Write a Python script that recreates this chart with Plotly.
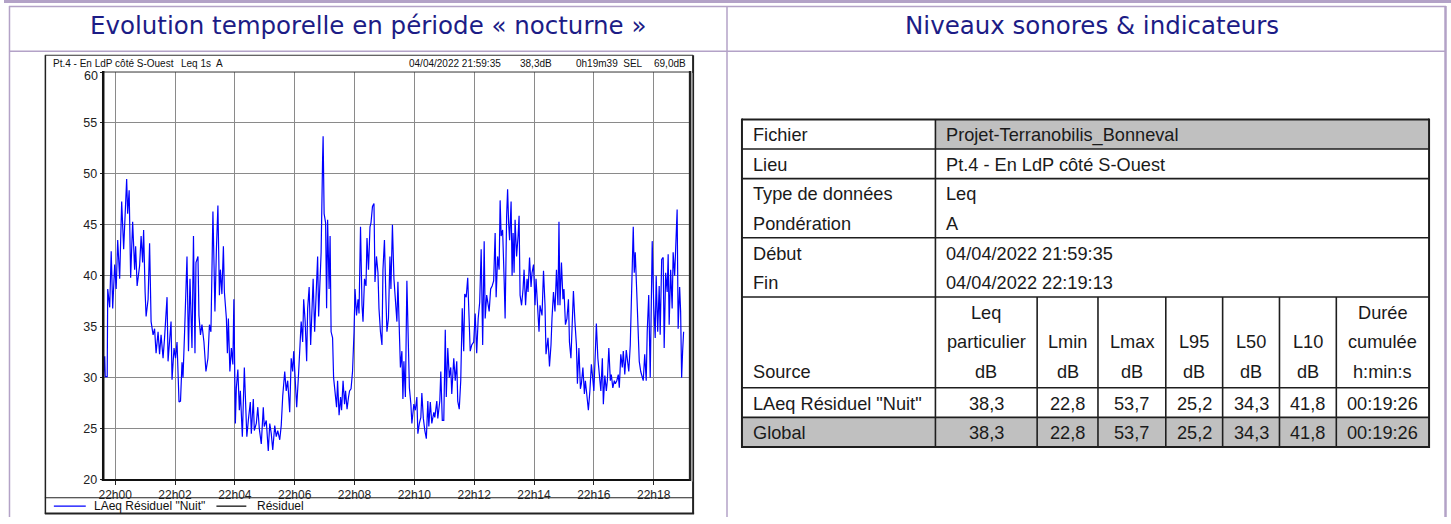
import plotly.graph_objects as go
from datetime import datetime, timedelta

W, H = 1451, 524

# ---------------- data ----------------
start_time = datetime(2022, 4, 4, 21, 59, 35)
end_time = datetime(2022, 4, 4, 22, 19, 13)

# seconds after start of each read sample
t_offsets = [
    0, 4, 5, 9, 10, 14, 17, 20, 24, 27, 30, 34, 38, 42, 48, 50, 53, 56, 60, 64, 66, 69, 74, 77, 80, 82, 85, 87, 91, 94,
    97, 101, 104, 107, 111, 114, 117, 121, 124, 129, 131, 134, 137, 139, 143, 146, 149, 153, 156, 159, 161, 164, 167,
    169, 172, 175, 179, 182, 185, 187, 191, 193, 196, 199, 203, 207, 211, 214, 217, 221, 223, 225, 228, 231, 234, 236,
    239, 242, 244, 248, 250, 252, 255, 258, 261, 263, 266, 268, 271, 274, 276, 280, 284, 286, 289, 292, 296, 298, 302,
    304, 308, 311, 314, 318, 322, 324, 328, 332, 335, 338, 341, 345, 348, 351, 355, 358, 361, 365, 368, 371, 375, 378,
    381, 383, 386, 389, 393, 395, 398, 401, 403, 406, 409, 411, 414, 417, 419, 422, 425, 428, 431, 433, 436, 438, 441,
    442, 444, 447, 449, 451, 454, 456, 458, 461, 463, 466, 469, 471, 474, 477, 479, 482, 485, 487, 490, 493, 495, 498,
    501, 504, 506, 509, 512, 514, 517, 520, 522, 525, 528, 530, 533, 536, 538, 541, 544, 546, 549, 552, 554, 557, 560,
    562, 565, 568, 570, 573, 576, 578, 581, 584,
    587, 590, 592, 595, 597, 600, 602, 604, 607, 610, 612, 615, 618, 620, 624, 627, 630, 632, 635, 638, 640, 643, 646,
    649, 652, 654, 657, 660, 664, 666, 670, 672, 676, 678, 681, 684, 687, 689, 692, 695, 698, 700, 704, 707, 710, 712,
    715, 718, 721, 724, 726, 729, 732, 734, 737, 740, 744, 747, 750, 753, 756, 759, 762, 765, 767, 770, 773, 775, 778,
    781, 784, 787, 789, 792, 795, 797, 799, 802, 805, 807, 810, 812, 814, 816, 819, 821, 823, 825, 827, 830, 833, 835,
    837, 840, 843, 845, 848, 851, 853, 856, 859, 861, 864, 867, 869, 872, 875, 877, 881, 884, 887, 889, 893, 896, 899,
    901, 904, 907, 910, 913, 915, 917, 920, 923, 925, 928, 931, 934, 936, 939, 942, 944, 947, 950, 952, 955, 958, 960,
    963, 966, 968, 971, 974, 977, 980, 982, 985, 988, 990, 993, 996, 999, 1002, 1004, 1007, 1010, 1012, 1015, 1018,
    1020, 1023, 1026, 1028, 1031, 1034, 1036, 1039, 1042, 1044, 1047, 1050, 1052, 1055, 1058, 1060, 1062, 1064, 1066,
    1068, 1071, 1074, 1076, 1079, 1082, 1084, 1087, 1090, 1092, 1095, 1098, 1100, 1102, 1105, 1108, 1110, 1113, 1116,
    1118, 1121, 1124, 1126, 1129, 1132, 1134, 1136, 1139, 1142, 1144, 1147, 1150, 1152, 1154, 1157, 1159, 1161, 1163,
    1165,
]

laeq = [
    29.0, 32.1, 30.1, 30.1, 38.7, 36.9, 42.4, 36.8, 41.1, 38.7, 43.5, 39.7, 47.3, 42.6, 49.5, 46.1, 48.4, 39.8, 45.3,
    40.6, 42.9, 39.0, 41.0, 43.9, 41.3, 44.5, 38.4, 36.0, 37.7, 43.2, 35.5, 34.2, 34.8, 32.4, 34.5, 32.3, 34.2, 31.9,
    33.9, 37.9, 31.6, 33.9, 35.5, 29.8, 32.9, 31.9, 33.5, 27.6, 27.7, 31.5, 30.0, 34.2, 38.5, 41.9, 32.6, 39.7, 32.9,
    43.9, 32.4, 41.3, 41.9, 36.1, 34.2, 35.2, 33.5, 30.6, 31.9, 35.2, 34.5, 46.3, 41.6, 36.5, 42.6, 46.9, 38.1, 40.6,
    38.2, 42.9, 38.4, 35.8, 32.4, 35.8, 30.6, 32.9, 31.3, 37.7, 25.5, 29.0, 30.8, 26.8, 28.7, 24.2, 31.0, 27.4, 24.2,
    25.8, 27.6, 24.5, 27.9, 24.8, 25.5, 27.1, 25.0, 23.5, 27.1, 25.2, 25.8, 22.8, 25.5, 24.5, 22.9, 25.3, 24.2, 24.8,
    23.9, 25.3, 28.2, 30.6, 28.7, 29.7, 26.6, 31.9, 30.6, 32.6, 29.7, 27.1, 30.6, 33.2, 35.5, 33.5, 37.7, 35.5, 31.6,
    36.8, 38.9, 33.2, 35.8, 39.7, 34.5, 38.4, 41.9, 36.0, 40.3, 42.3, 51.6, 53.7, 46.1, 45.2, 36.8, 45.5, 38.7, 43.9,
    34.5, 33.9, 30.0, 28.7, 27.1, 29.7, 26.3, 28.1, 26.8, 29.7, 27.4, 28.7, 26.9, 28.1, 28.7, 28.9, 30.6, 34.5, 38.7,
    36.1, 37.7, 36.3, 44.8, 37.1, 35.5, 39.7, 39.0, 43.7, 40.6, 44.8, 45.2, 46.8, 47.1, 39.4, 41.9, 40.3, 36.8, 34.5,
    33.2, 40.6, 43.5, 37.7, 34.5, 35.8, 41.9, 38.7, 45.0, 39.7,
    37.4, 35.5, 39.4, 33.9, 31.0, 32.6, 27.9, 31.6, 28.1, 39.5, 34.2, 29.0, 27.4, 25.5, 27.4, 26.8, 28.1, 24.5, 25.5,
    26.1, 28.5, 26.0, 24.8, 24.0, 27.7, 25.2, 27.6, 25.5, 26.6, 26.1, 27.7, 26.0, 27.7, 30.6, 25.8, 25.8, 34.7, 28.1,
    32.9, 30.0, 31.0, 28.4, 31.9, 29.7, 31.6, 27.7, 26.9, 29.7, 36.8, 32.6, 38.2, 37.9, 39.8, 35.8, 32.6, 33.2, 33.5,
    36.3, 32.4, 35.8, 37.4, 42.6, 33.2, 43.4, 35.8, 38.1, 37.1, 36.5, 38.7, 39.0, 39.5, 44.2, 37.9, 41.9, 40.6, 47.4,
    43.9, 44.5, 39.7, 35.8, 45.8, 48.5, 45.2, 43.5, 47.3, 40.0, 44.2, 40.3, 45.5, 41.9, 43.9, 45.9, 38.1, 37.1, 38.7,
    40.6, 37.1, 39.7, 38.4, 41.8, 38.9, 40.3, 41.1, 37.1, 39.7, 37.4, 34.5, 37.1, 36.1, 40.5, 37.1, 32.3, 33.9, 31.1,
    33.2, 35.8, 38.4, 36.5, 40.6, 37.1, 45.3, 37.1, 41.3, 37.7, 38.7, 35.2, 35.8, 37.7, 33.5, 31.9, 36.5, 38.5, 35.5,
    33.2, 29.4, 32.9, 28.9, 29.4, 31.0, 28.4, 29.7, 28.1, 26.8, 28.7, 31.3, 30.3, 28.7, 32.6, 35.3, 31.9, 30.0, 28.7,
    31.9, 27.4, 30.2, 28.7, 29.7, 32.9, 29.7, 30.3, 29.0, 29.7, 29.4, 29.7, 30.3, 29.0, 32.3, 31.0, 32.6, 30.3, 32.7,
    31.9, 30.6, 33.2, 37.1, 40.8, 44.8, 40.3, 42.3, 38.4, 34.8, 31.6, 30.6, 30.0, 29.7, 32.3, 29.7, 34.5, 38.1, 30.0,
    35.8, 43.4, 37.1, 33.9, 40.0, 34.5, 39.0, 34.2, 41.6, 41.8, 32.9, 40.3, 38.4, 42.1, 35.2, 40.6, 36.8, 42.3, 40.0,
    45.2, 46.5, 34.8, 38.9, 36.5, 30.0, 32.6, 34.5,
]

x_tick_times = ["22:00", "22:02", "22:04", "22:06", "22:08", "22:10", "22:12", "22:14", "22:16", "22:18"]
x_tick_labels = ["22h00", "22h02", "22h04", "22h06", "22h08", "22h10", "22h12", "22h14", "22h16", "22h18"]
y_ticks = [20, 25, 30, 35, 40, 45, 50, 55, 60]

panel_titles = ["Evolution temporelle en période « nocturne »", "Niveaux sonores & indicateurs"]
chart_info_left = ["Pt.4 - En LdP côté S-Ouest", "Leq 1s  A"]
chart_info_right = ["04/04/2022 21:59:35", "38,3dB", "0h19m39  SEL", "69,0dB"]
legend_labels = ['LAeq Résiduel "Nuit"', "Résiduel"]
legend_colors = ["#0000ff", "#000000"]

info_labels = ["Fichier", "Lieu", "Type de données", "Pondération", "Début", "Fin"]
info_values = ["Projet-Terranobilis_Bonneval", "Pt.4 - En LdP côté S-Ouest", "Leq", "A",
               "04/04/2022 21:59:35", "04/04/2022 22:19:13"]

col_headers = [["Leq", "particulier", "dB"], ["", "Lmin", "dB"], ["", "Lmax", "dB"], ["", "L95", "dB"],
               ["", "L50", "dB"], ["", "L10", "dB"], ["Durée", "cumulée", "h:min:s"]]
sources = ['LAeq Résiduel "Nuit"', "Global"]
leq_part = [38.3, 38.3]
lmin = [22.8, 22.8]
lmax = [53.7, 53.7]
l95 = [25.2, 25.2]
l50 = [34.3, 34.3]
l10 = [41.8, 41.8]
duree = ["00:19:26", "00:19:26"]

# ---------------- helpers ----------------
def px(x):
    return x / W

def py(y):
    return 1 - y / H

LAV = "#b3a2c7"
NAVY = "#1c1c86"
DARK = "#1a1a1a"
GRAY = "#c0c0c0"
ARIAL = "Liberation Sans, Arial, sans-serif"
TITLE_FONT = "DejaVu Sans, sans-serif"

shapes = []
annos = []

def line(x0, y0, x1, y1, color, width):
    shapes.append(dict(type="line", xref="paper", yref="paper", x0=px(x0), y0=py(y0), x1=px(x1), y1=py(y1),
                       line=dict(color=color, width=width), layer="above"))

def rect(x0, y0, x1, y1, fill, color=None, width=0, layer="below"):
    shapes.append(dict(type="rect", xref="paper", yref="paper", x0=px(x0), y0=py(y0), x1=px(x1), y1=py(y1),
                       fillcolor=fill, line=dict(color=color or fill, width=width), layer=layer))

def text(x, y, s, size, color=DARK, anchor="left", family=ARIAL):
    annos.append(dict(xref="paper", yref="paper", x=px(x), y=py(y), text=s, showarrow=False,
                      xanchor=anchor, yanchor="middle", font=dict(family=family, size=size, color=color)))

def fmt(v):
    return f"{v:.1f}".replace(".", ",")

# ---------------- frame ----------------
line(0, 1.5, W, 1.5, LAV, 3)
line(5, 6.5, 1446, 6.5, LAV, 1.5)
line(5, 52, 1446, 52, LAV, 1.5)
line(5.5, 6, 5.5, H, LAV, 1.5)
line(725, 6, 725, H, LAV, 1.5)
line(1445.5, 6, 1445.5, H, LAV, 2.5)

text(365, 26, panel_titles[0], 24.5, NAVY, "center", TITLE_FONT)
text(1091, 26, panel_titles[1], 24.5, NAVY, "center", TITLE_FONT)

# ---------------- chart box ----------------
line(41, 56, 691, 56, "#333", 1)
line(41.5, 56, 41.5, 521, "#222", 1.5)
line(691, 56, 691, 521, "#222", 2)
line(41, 520.5, 692, 520.5, "#222", 2)
line(41, 504.5, 691, 504.5, "#222", 1.2)

text(47, 64, chart_info_left[0], 10, "#111")
text(175, 64, chart_info_left[1], 10, "#111")
text(500, 64, chart_info_right[0], 10, "#111", "right")
text(552, 64, chart_info_right[1], 10, "#111", "right")
text(643, 64, chart_info_right[2], 10, "#111", "right")
text(686, 64, chart_info_right[3], 10, "#111", "right")

# plot borders
line(99, 73, 688, 73, "#333", 1)
line(99.5, 72, 99.5, 487, "#111", 2.5)
line(98, 486.5, 689, 486.5, "#111", 2)
line(688, 72, 688, 487, "#222", 2.5)
line(690, 74, 690, 488, "#9a9a9a", 1.2)

# legend
line(50, 513, 82, 513, legend_colors[0], 1.2)
text(88, 513, legend_labels[0], 12, "#111")
line(213, 513, 243, 513, legend_colors[1], 1.2)
text(252, 513, legend_labels[1], 12, "#111")

# top y tick label (drawn slightly lower, as in the original export)
annos.append(dict(xref="paper", yref="y", x=px(96), y=y_ticks[-1], yshift=-4, text=str(y_ticks[-1]),
                  showarrow=False, xanchor="right", yanchor="middle",
                  font=dict(family=ARIAL, size=12.5, color="#222")))

# ---------------- table ----------------
TL, TR = 740, 1429
C1 = 934
cols = [934, 1036, 1097, 1165, 1222, 1279, 1336, 1429]
row_top = 121
ROW = 30
FS = 18.2

rect(C1, 121, TR, 151, GRAY)
rect(TL, 423, TR, 453, GRAY)

for i, (lab, val) in enumerate(zip(info_labels, info_values)):
    yc = row_top + ROW * i + ROW / 2 + 1
    text(TL + 9, yc, lab, FS)
    text(C1 + 9, yc, val, FS)

hdr_lines_y = [317, 347, 377]
text(TL + 9, 377, "Source", FS)
for j, hl in enumerate(col_headers):
    xc = (cols[j] + cols[j + 1]) / 2
    for k, s in enumerate(hl):
        if s:
            text(xc, hdr_lines_y[k], s, FS, anchor="center")

values_cols = [[fmt(v) for v in leq_part], [fmt(v) for v in lmin], [fmt(v) for v in lmax],
               [fmt(v) for v in l95], [fmt(v) for v in l50], [fmt(v) for v in l10], duree]
for r, src in enumerate(sources):
    yc = 393 + ROW * r + ROW / 2 + 1
    text(TL + 9, yc, src, FS)
    for j, col in enumerate(values_cols):
        xc = (cols[j] + cols[j + 1]) / 2
        text(xc, yc, col[r], FS, anchor="center")

BW = 1.6
BC = "#1e1e1e"
line(TL, 121, TR, 121, BC, 2)
line(TL, 453, TR, 453, BC, 2)
line(TL, 120, TL, 454, BC, 2)
line(TR, 120, TR, 454, BC, 2)
for yline in [151, 181, 241, 301, 393, 423]:
    line(TL, yline, TR, yline, BC, BW)
line(C1, 121, C1, 453, BC, BW)
for xc in cols[1:-1]:
    line(xc, 301, xc, 453, BC, BW)

# ---------------- figure ----------------
times = [start_time + timedelta(seconds=s) for s in t_offsets]
tick_dt = [datetime(2022, 4, 4, int(t[:2]), int(t[3:])) for t in x_tick_times]

fig = go.Figure()
fig.add_trace(go.Scatter(x=times, y=laeq, mode="lines", line=dict(color="#0000ff", width=1.2),
                         showlegend=False, hoverinfo="skip", name=legend_labels[0]))

fig.update_layout(
    width=W, height=H, margin=dict(l=0, r=0, t=0, b=0),
    paper_bgcolor="white", plot_bgcolor="white", showlegend=False,
    xaxis=dict(domain=[px(99), px(688)], range=[start_time, end_time], type="date",
               tickvals=tick_dt, ticktext=x_tick_labels, showgrid=True, gridcolor="#8a8a8a", gridwidth=1.3,
               ticks="outside", ticklen=4, tickcolor="#222", tickwidth=1,
               tickfont=dict(family=ARIAL, size=12, color="#222"), zeroline=False, showline=False,
               fixedrange=True),
    yaxis=dict(domain=[1 - 486 / H, 1 - 73 / H], range=[20, 60], tickvals=y_ticks,
               ticktext=[str(v) for v in y_ticks[:-1]] + [""],
               showgrid=True, gridcolor="#8a8a8a", gridwidth=1.3, ticks="outside", ticklen=2, tickcolor="#222",
               tickfont=dict(family=ARIAL, size=12.5, color="#222"), zeroline=False, showline=False,
               fixedrange=True),
    shapes=shapes, annotations=annos,
)

fig.write_html(
    "out.html",
    config={"displayModeBar": False},
    post_script="document.documentElement.style.margin='0';document.body.style.margin='0';"
                "document.documentElement.style.overflow='hidden';document.body.style.overflow='hidden';",
)
